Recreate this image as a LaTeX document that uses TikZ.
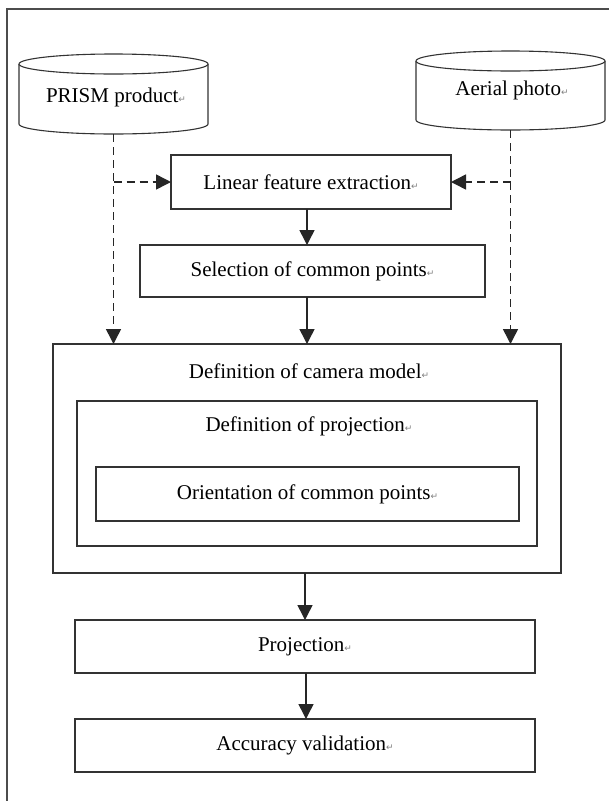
\documentclass[tikz,border=0pt]{standalone}
\usepackage{fontspec}
\setmainfont{Liberation Serif}
\newfontfamily\symfont{DejaVu Sans}
\usetikzlibrary{arrows.meta}
\newcommand{\retmark}{{\symfont\fontsize{9}{9}\selectfont\color{gray}↵}}
\begin{document}
\begin{tikzpicture}[x=1pt,y=-1pt,
  every node/.style={font=\fontsize{21}{23}\selectfont, inner sep=0pt, outer sep=0pt},
  stepbox/.style={draw=black!80, line width=1.2pt, rectangle, anchor=north west},
  linecol/.style={draw=black!85, line width=1.5pt},
  arr/.style={linecol, -{Triangle[length=15pt,width=15pt]}},
  dasharr/.style={linecol, dash pattern=on 8pt off 5pt, -{Triangle[length=15pt,width=15pt,fill=black!85]}},
  cyl/.style={draw=black!80, line width=1.1pt, fill=white}]
\useasboundingbox (0,0) rectangle (609,801);
\fill[white] (0,0) rectangle (609,801);
% outer frame (extends beyond picture)
\draw[draw=black!70, line width=1.6pt] (7,820) -- (7,9) -- (620,9);

% cylinders
\node[minimum width=189pt, minimum height=80pt, anchor=north west] (prism) at (19,54) {};
\draw[cyl] (prism.west |- 0,64) -- (prism.west |- 0,124) arc[start angle=180,end angle=360,x radius=94.5pt,y radius=10pt] -- (prism.east |- 0,64);
\draw[cyl] (prism.north |- 0,64) ellipse[x radius=94.5pt, y radius=10pt];
\node at (116,97) {PRISM product\retmark};

\node[minimum width=189pt, minimum height=79pt, anchor=north west] (aerial) at (416,51) {};
\draw[cyl] (aerial.west |- 0,61) -- (aerial.west |- 0,120) arc[start angle=180,end angle=360,x radius=94.5pt,y radius=10pt] -- (aerial.east |- 0,61);
\draw[cyl] (aerial.north |- 0,61) ellipse[x radius=94.5pt, y radius=10pt];
\node at (512,90) {Aerial photo\retmark};

% boxes
\node[stepbox, minimum width=280pt, minimum height=54pt] (lin) at (171,155) {Linear feature extraction\retmark};
\node[stepbox, minimum width=345pt, minimum height=52pt] (sel) at (140,245) {Selection of common points\retmark};
\node[stepbox, minimum width=508pt, minimum height=229pt] (cam) at (53,344) {};
\node at (309,371) {Definition of camera model\retmark};
\node[stepbox, minimum width=460pt, minimum height=145pt] (defp) at (77,401) {};
\node at (309,426) {Definition of projection\retmark};
\node[stepbox, minimum width=423pt, minimum height=54pt] (ori) at (96,467) {Orientation of common points\retmark};
\node[stepbox, minimum width=460pt, minimum height=53pt] (proj) at (75,620) {Projection\retmark};
\node[stepbox, minimum width=460pt, minimum height=53pt] (acc) at (75,719) {Accuracy validation\retmark};

% solid arrows
\draw[arr] (lin.south -| 307,0) -- (sel.north -| 307,0);
\draw[arr] (sel.south -| 307,0) -- (cam.north -| 307,0);
\draw[arr] (cam.south -| 305,0) -- (proj.north -| 305,0);
\draw[arr] (proj.south -| 306,0) -- (acc.north -| 306,0);

% dashed arrows
\coordinate (pl) at (prism.south |- lin.west);
\coordinate (al) at (aerial.south |- lin.east);
\draw[dasharr] (prism.south) -- (prism.south |- cam.north);
\draw[dasharr] (pl) -- (lin.west);
\draw[dasharr] (aerial.south) -- (aerial.south |- cam.north);
\draw[dasharr] (al) -- (lin.east);
\end{tikzpicture}
\end{document}
